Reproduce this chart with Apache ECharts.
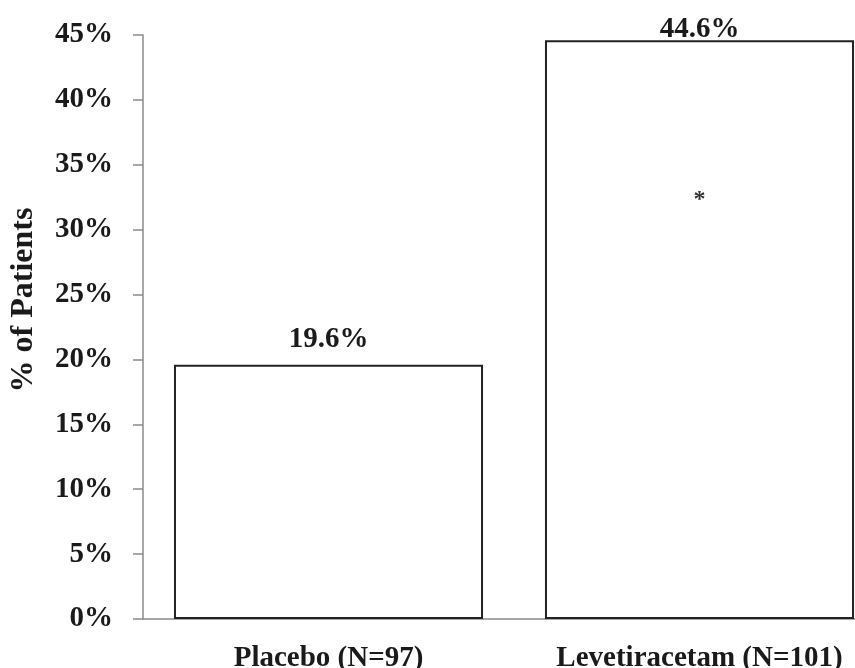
<!DOCTYPE html>
<html>
<head>
<meta charset="utf-8">
<script src="https://cdn.jsdelivr.net/npm/echarts@6/dist/echarts.min.js"></script>
<style>
html,body{margin:0;padding:0;background:#fff;}
#chart{width:855px;height:668px;}
</style>
</head>
<body>
<div id="chart"></div>
<script>
// Data
const categories = ['Placebo (N=97)', 'Levetiracetam (N=101)'];
const percentValues = [19.6, 44.6];
const significanceMarkCategory = 'Levetiracetam (N=101)';
const significanceMarkValue = 32.3;
const significanceMarkText = '*';
const yTickMax = 45;
const yTickStep = 5;
const yAxisTitle = '% of Patients';

const FONT = '"Liberation Serif", "Times New Roman", serif';
const labelDistances = [11, -4];

const chart = echarts.init(document.getElementById('chart'), null, {renderer: 'canvas'});
chart.setOption({
  animation: false,
  backgroundColor: '#ffffff',
  grid: {left: 143, top: 35, height: 584, width: 742, containLabel: false, outerBoundsMode: 'none'},
  xAxis: {
    type: 'category',
    data: categories,
    axisLine: {show: true, lineStyle: {color: '#8a8a8a', width: 1.5}},
    axisTick: {show: false},
    axisLabel: {
      interval: 0,
      hideOverlap: false,
      margin: 25,
      color: '#1a1a1a',
      fontFamily: FONT,
      fontWeight: 'bold',
      fontSize: 29
    }
  },
  yAxis: {
    type: 'value',
    min: 0,
    max: yTickMax,
    interval: yTickStep,
    name: yAxisTitle,
    nameLocation: 'middle',
    nameGap: 103,
    nameTextStyle: {
      color: '#1a1a1a',
      fontFamily: FONT,
      fontWeight: 'bold',
      fontSize: 32,
      padding: [0, 0, 0, 54]
    },
    axisLine: {show: true, lineStyle: {color: '#8a8a8a', width: 1.5}},
    axisTick: {show: true, inside: false, length: 10, lineStyle: {color: '#8a8a8a', width: 1.5}},
    splitLine: {show: false},
    axisLabel: {
      margin: 30,
      color: '#1a1a1a',
      fontFamily: FONT,
      fontWeight: 'bold',
      fontSize: 29,
      formatter: v => v + '%'
    }
  },
  series: [{
    type: 'bar',
    barCategoryGap: '16.7%',
    data: percentValues.map((v, i) => ({value: v, label: {distance: labelDistances[i]}})),
    itemStyle: {color: '#ffffff', borderColor: '#222222', borderWidth: 2},
    label: {
      show: true,
      position: 'top',
      color: '#1a1a1a',
      fontFamily: FONT,
      fontWeight: 'bold',
      fontSize: 29,
      formatter: p => p.value.toFixed(1) + '%'
    },
    markPoint: {
      symbol: 'circle',
      symbolSize: 2,
      itemStyle: {color: 'rgba(255,255,255,0)'},
      data: [{coord: [significanceMarkCategory, significanceMarkValue], value: significanceMarkText}],
      label: {
        show: true,
        position: 'inside',
        formatter: significanceMarkText,
        color: '#333333',
        fontFamily: FONT,
        fontWeight: 'bold',
        fontSize: 24
      }
    }
  }]
});
</script>
</body>
</html>
